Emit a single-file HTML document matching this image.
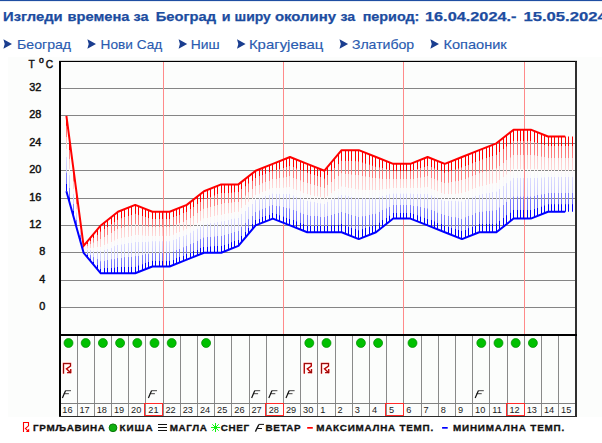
<!DOCTYPE html>
<html><head><meta charset="utf-8">
<style>
html,body{margin:0;padding:0;background:#fff;width:602px;height:443px;overflow:hidden;}
body{position:relative;font-family:"Liberation Sans",sans-serif;}
svg{position:absolute;left:0;top:0;}
</style></head><body>
<svg width="602" height="443" viewBox="0 0 602 443">
<rect x="0" y="0" width="602" height="1.1" fill="#1f4ea3"/>
<text x="3.10" y="21" font-family="Liberation Sans" font-weight="bold" font-size="12.9" fill="#1c4ca0" stroke="#1c4ca0" stroke-width="0.25" textLength="59.60" lengthAdjust="spacingAndGlyphs">Изгледи</text>
<text x="67.50" y="21" font-family="Liberation Sans" font-weight="bold" font-size="12.9" fill="#1c4ca0" stroke="#1c4ca0" stroke-width="0.25" textLength="61.90" lengthAdjust="spacingAndGlyphs">времена</text>
<text x="133.40" y="21" font-family="Liberation Sans" font-weight="bold" font-size="12.9" fill="#1c4ca0" stroke="#1c4ca0" stroke-width="0.25" textLength="15.10" lengthAdjust="spacingAndGlyphs">за</text>
<text x="155.80" y="21" font-family="Liberation Sans" font-weight="bold" font-size="12.9" fill="#1c4ca0" stroke="#1c4ca0" stroke-width="0.25" textLength="60.30" lengthAdjust="spacingAndGlyphs">Београд</text>
<text x="221.80" y="21" font-family="Liberation Sans" font-weight="bold" font-size="12.9" fill="#1c4ca0" stroke="#1c4ca0" stroke-width="0.25" textLength="8.80" lengthAdjust="spacingAndGlyphs">и</text>
<text x="234.50" y="21" font-family="Liberation Sans" font-weight="bold" font-size="12.9" fill="#1c4ca0" stroke="#1c4ca0" stroke-width="0.25" textLength="36.40" lengthAdjust="spacingAndGlyphs">ширу</text>
<text x="274.90" y="21" font-family="Liberation Sans" font-weight="bold" font-size="12.9" fill="#1c4ca0" stroke="#1c4ca0" stroke-width="0.25" textLength="61.10" lengthAdjust="spacingAndGlyphs">околину</text>
<text x="340.40" y="21" font-family="Liberation Sans" font-weight="bold" font-size="12.9" fill="#1c4ca0" stroke="#1c4ca0" stroke-width="0.25" textLength="14.70" lengthAdjust="spacingAndGlyphs">за</text>
<text x="362.70" y="21" font-family="Liberation Sans" font-weight="bold" font-size="12.9" fill="#1c4ca0" stroke="#1c4ca0" stroke-width="0.25" textLength="56.70" lengthAdjust="spacingAndGlyphs">период:</text>
<text x="425.00" y="21" font-family="Liberation Sans" font-weight="bold" font-size="12.9" fill="#1c4ca0" stroke="#1c4ca0" stroke-width="0.25" textLength="91.50" lengthAdjust="spacingAndGlyphs">16.04.2024.-</text>
<text x="523.40" y="21" font-family="Liberation Sans" font-weight="bold" font-size="12.9" fill="#1c4ca0" stroke="#1c4ca0" stroke-width="0.25" textLength="88.00" lengthAdjust="spacingAndGlyphs">15.05.2024.</text>
<path d="M3.40,39.2 L12.00,43.9 L3.40,48.7 L4.70,43.9 Z" fill="#1a3d8f"/>
<text x="17.00" y="48.9" font-family="Liberation Sans" font-size="13" fill="#2a5bb0" stroke="#2a5bb0" stroke-width="0.15" textLength="54.10" lengthAdjust="spacingAndGlyphs">Београд</text>
<path d="M87.40,39.2 L96.00,43.9 L87.40,48.7 L88.70,43.9 Z" fill="#1a3d8f"/>
<text x="100.60" y="48.9" font-family="Liberation Sans" font-size="13" fill="#2a5bb0" stroke="#2a5bb0" stroke-width="0.15" textLength="61.60" lengthAdjust="spacingAndGlyphs">Нови Сад</text>
<path d="M178.60,39.2 L187.20,43.9 L178.60,48.7 L179.90,43.9 Z" fill="#1a3d8f"/>
<text x="190.70" y="48.9" font-family="Liberation Sans" font-size="13" fill="#2a5bb0" stroke="#2a5bb0" stroke-width="0.15" textLength="28.90" lengthAdjust="spacingAndGlyphs">Ниш</text>
<path d="M237.00,39.2 L245.60,43.9 L237.00,48.7 L238.30,43.9 Z" fill="#1a3d8f"/>
<text x="248.90" y="48.9" font-family="Liberation Sans" font-size="13" fill="#2a5bb0" stroke="#2a5bb0" stroke-width="0.15" textLength="74.50" lengthAdjust="spacingAndGlyphs">Крагујевац</text>
<path d="M339.50,39.2 L348.10,43.9 L339.50,48.7 L340.80,43.9 Z" fill="#1a3d8f"/>
<text x="351.90" y="48.9" font-family="Liberation Sans" font-size="13" fill="#2a5bb0" stroke="#2a5bb0" stroke-width="0.15" textLength="62.30" lengthAdjust="spacingAndGlyphs">Златибор</text>
<path d="M430.40,39.2 L439.00,43.9 L430.40,48.7 L431.70,43.9 Z" fill="#1a3d8f"/>
<text x="443.50" y="48.9" font-family="Liberation Sans" font-size="13" fill="#2a5bb0" stroke="#2a5bb0" stroke-width="0.15" textLength="63.20" lengthAdjust="spacingAndGlyphs">Копаоник</text>
<rect x="8" y="57" width="594" height="360" fill="#fcfdfc"/>
<rect x="61" y="307" width="514" height="1" fill="#858585"/>
<rect x="61" y="280" width="514" height="1" fill="#858585"/>
<rect x="61" y="252" width="514" height="1" fill="#858585"/>
<rect x="61" y="225" width="514" height="1" fill="#858585"/>
<rect x="61" y="198" width="514" height="1" fill="#858585"/>
<rect x="61" y="170" width="514" height="1" fill="#858585"/>
<rect x="61" y="143" width="514" height="1" fill="#858585"/>
<rect x="61" y="115" width="514" height="1" fill="#858585"/>
<rect x="61" y="88" width="514" height="1" fill="#858585"/>
<rect x="163" y="62" width="1" height="272" fill="#ff8a8a"/>
<rect x="283" y="62" width="1" height="272" fill="#ff8a8a"/>
<rect x="403" y="62" width="1" height="272" fill="#ff8a8a"/>
<rect x="524" y="62" width="1" height="272" fill="#ff8a8a"/>
<defs><linearGradient id="g" x1="0" y1="0" x2="0" y2="1"><stop offset="0" stop-color="#ff0000"/><stop offset="0.125" stop-color="#ff0000"/><stop offset="0.13" stop-color="#ff7070"/><stop offset="0.28" stop-color="#ff8282"/><stop offset="0.285" stop-color="#ffc8c8"/><stop offset="0.44" stop-color="#ffd8d8"/><stop offset="0.445" stop-color="#fff6f6"/><stop offset="0.54" stop-color="#f6f6ff"/><stop offset="0.545" stop-color="#dcdcff"/><stop offset="0.75" stop-color="#cacaff"/><stop offset="0.755" stop-color="#8484ff"/><stop offset="0.9" stop-color="#7070ff"/><stop offset="0.905" stop-color="#0000ff"/><stop offset="1" stop-color="#0000ff"/></linearGradient></defs>
<rect x="66" y="115.98" width="1" height="75.24" fill="url(#g)"/>
<rect x="69" y="141.97" width="1" height="61.56" fill="url(#g)"/>
<rect x="73" y="167.96" width="1" height="47.88" fill="url(#g)"/>
<rect x="76" y="193.96" width="1" height="34.20" fill="url(#g)"/>
<rect x="80" y="219.95" width="1" height="20.52" fill="url(#g)"/>
<rect x="83" y="245.94" width="1" height="6.84" fill="url(#g)"/>
<rect x="87" y="241.84" width="1" height="15.05" fill="url(#g)"/>
<rect x="90" y="237.73" width="1" height="23.26" fill="url(#g)"/>
<rect x="93" y="233.63" width="1" height="31.46" fill="url(#g)"/>
<rect x="97" y="229.52" width="1" height="39.67" fill="url(#g)"/>
<rect x="100" y="225.42" width="1" height="47.88" fill="url(#g)"/>
<rect x="104" y="222.68" width="1" height="50.62" fill="url(#g)"/>
<rect x="107" y="219.95" width="1" height="53.35" fill="url(#g)"/>
<rect x="111" y="217.21" width="1" height="56.09" fill="url(#g)"/>
<rect x="114" y="214.48" width="1" height="58.82" fill="url(#g)"/>
<rect x="117" y="211.74" width="1" height="61.56" fill="url(#g)"/>
<rect x="121" y="210.37" width="1" height="62.93" fill="url(#g)"/>
<rect x="124" y="209.00" width="1" height="64.30" fill="url(#g)"/>
<rect x="128" y="207.64" width="1" height="65.66" fill="url(#g)"/>
<rect x="131" y="206.27" width="1" height="67.03" fill="url(#g)"/>
<rect x="135" y="204.90" width="1" height="68.40" fill="url(#g)"/>
<rect x="138" y="206.27" width="1" height="65.66" fill="url(#g)"/>
<rect x="142" y="207.64" width="1" height="62.93" fill="url(#g)"/>
<rect x="145" y="209.00" width="1" height="60.19" fill="url(#g)"/>
<rect x="148" y="210.37" width="1" height="57.46" fill="url(#g)"/>
<rect x="152" y="211.74" width="1" height="54.72" fill="url(#g)"/>
<rect x="155" y="211.74" width="1" height="54.72" fill="url(#g)"/>
<rect x="159" y="211.74" width="1" height="54.72" fill="url(#g)"/>
<rect x="162" y="211.74" width="1" height="54.72" fill="url(#g)"/>
<rect x="166" y="211.74" width="1" height="54.72" fill="url(#g)"/>
<rect x="169" y="211.74" width="1" height="54.72" fill="url(#g)"/>
<rect x="173" y="210.37" width="1" height="54.72" fill="url(#g)"/>
<rect x="176" y="209.00" width="1" height="54.72" fill="url(#g)"/>
<rect x="179" y="207.64" width="1" height="54.72" fill="url(#g)"/>
<rect x="183" y="206.27" width="1" height="54.72" fill="url(#g)"/>
<rect x="186" y="204.90" width="1" height="54.72" fill="url(#g)"/>
<rect x="190" y="202.16" width="1" height="56.09" fill="url(#g)"/>
<rect x="193" y="199.43" width="1" height="57.46" fill="url(#g)"/>
<rect x="197" y="196.69" width="1" height="58.82" fill="url(#g)"/>
<rect x="200" y="193.96" width="1" height="60.19" fill="url(#g)"/>
<rect x="203" y="191.22" width="1" height="61.56" fill="url(#g)"/>
<rect x="207" y="189.85" width="1" height="62.93" fill="url(#g)"/>
<rect x="210" y="188.48" width="1" height="64.30" fill="url(#g)"/>
<rect x="214" y="187.12" width="1" height="65.66" fill="url(#g)"/>
<rect x="217" y="185.75" width="1" height="67.03" fill="url(#g)"/>
<rect x="221" y="184.38" width="1" height="68.40" fill="url(#g)"/>
<rect x="224" y="184.38" width="1" height="67.03" fill="url(#g)"/>
<rect x="228" y="184.38" width="1" height="65.66" fill="url(#g)"/>
<rect x="231" y="184.38" width="1" height="64.30" fill="url(#g)"/>
<rect x="234" y="184.38" width="1" height="62.93" fill="url(#g)"/>
<rect x="238" y="184.38" width="1" height="61.56" fill="url(#g)"/>
<rect x="241" y="181.64" width="1" height="60.19" fill="url(#g)"/>
<rect x="245" y="178.91" width="1" height="58.82" fill="url(#g)"/>
<rect x="248" y="176.17" width="1" height="57.46" fill="url(#g)"/>
<rect x="252" y="173.44" width="1" height="56.09" fill="url(#g)"/>
<rect x="255" y="170.70" width="1" height="54.72" fill="url(#g)"/>
<rect x="259" y="169.33" width="1" height="54.72" fill="url(#g)"/>
<rect x="262" y="167.96" width="1" height="54.72" fill="url(#g)"/>
<rect x="265" y="166.60" width="1" height="54.72" fill="url(#g)"/>
<rect x="269" y="165.23" width="1" height="54.72" fill="url(#g)"/>
<rect x="272" y="163.86" width="1" height="54.72" fill="url(#g)"/>
<rect x="276" y="162.49" width="1" height="57.46" fill="url(#g)"/>
<rect x="279" y="161.12" width="1" height="60.19" fill="url(#g)"/>
<rect x="283" y="159.76" width="1" height="62.93" fill="url(#g)"/>
<rect x="286" y="158.39" width="1" height="65.66" fill="url(#g)"/>
<rect x="289" y="157.02" width="1" height="68.40" fill="url(#g)"/>
<rect x="293" y="158.39" width="1" height="68.40" fill="url(#g)"/>
<rect x="296" y="159.76" width="1" height="68.40" fill="url(#g)"/>
<rect x="300" y="161.12" width="1" height="68.40" fill="url(#g)"/>
<rect x="303" y="162.49" width="1" height="68.40" fill="url(#g)"/>
<rect x="307" y="163.86" width="1" height="68.40" fill="url(#g)"/>
<rect x="310" y="165.23" width="1" height="67.03" fill="url(#g)"/>
<rect x="314" y="166.60" width="1" height="65.66" fill="url(#g)"/>
<rect x="317" y="167.96" width="1" height="64.30" fill="url(#g)"/>
<rect x="320" y="169.33" width="1" height="62.93" fill="url(#g)"/>
<rect x="324" y="170.70" width="1" height="61.56" fill="url(#g)"/>
<rect x="327" y="166.60" width="1" height="65.66" fill="url(#g)"/>
<rect x="331" y="162.49" width="1" height="69.77" fill="url(#g)"/>
<rect x="334" y="158.39" width="1" height="73.87" fill="url(#g)"/>
<rect x="338" y="154.28" width="1" height="77.98" fill="url(#g)"/>
<rect x="341" y="150.18" width="1" height="82.08" fill="url(#g)"/>
<rect x="345" y="150.18" width="1" height="83.45" fill="url(#g)"/>
<rect x="348" y="150.18" width="1" height="84.82" fill="url(#g)"/>
<rect x="351" y="150.18" width="1" height="86.18" fill="url(#g)"/>
<rect x="355" y="150.18" width="1" height="87.55" fill="url(#g)"/>
<rect x="358" y="150.18" width="1" height="88.92" fill="url(#g)"/>
<rect x="362" y="151.55" width="1" height="86.18" fill="url(#g)"/>
<rect x="365" y="152.92" width="1" height="83.45" fill="url(#g)"/>
<rect x="369" y="154.28" width="1" height="80.71" fill="url(#g)"/>
<rect x="372" y="155.65" width="1" height="77.98" fill="url(#g)"/>
<rect x="375" y="157.02" width="1" height="75.24" fill="url(#g)"/>
<rect x="379" y="158.39" width="1" height="71.14" fill="url(#g)"/>
<rect x="382" y="159.76" width="1" height="67.03" fill="url(#g)"/>
<rect x="386" y="161.12" width="1" height="62.93" fill="url(#g)"/>
<rect x="389" y="162.49" width="1" height="58.82" fill="url(#g)"/>
<rect x="393" y="163.86" width="1" height="54.72" fill="url(#g)"/>
<rect x="396" y="163.86" width="1" height="54.72" fill="url(#g)"/>
<rect x="400" y="163.86" width="1" height="54.72" fill="url(#g)"/>
<rect x="403" y="163.86" width="1" height="54.72" fill="url(#g)"/>
<rect x="406" y="163.86" width="1" height="54.72" fill="url(#g)"/>
<rect x="410" y="163.86" width="1" height="54.72" fill="url(#g)"/>
<rect x="413" y="162.49" width="1" height="57.46" fill="url(#g)"/>
<rect x="417" y="161.12" width="1" height="60.19" fill="url(#g)"/>
<rect x="420" y="159.76" width="1" height="62.93" fill="url(#g)"/>
<rect x="424" y="158.39" width="1" height="65.66" fill="url(#g)"/>
<rect x="427" y="157.02" width="1" height="68.40" fill="url(#g)"/>
<rect x="431" y="158.39" width="1" height="68.40" fill="url(#g)"/>
<rect x="434" y="159.76" width="1" height="68.40" fill="url(#g)"/>
<rect x="437" y="161.12" width="1" height="68.40" fill="url(#g)"/>
<rect x="441" y="162.49" width="1" height="68.40" fill="url(#g)"/>
<rect x="444" y="163.86" width="1" height="68.40" fill="url(#g)"/>
<rect x="448" y="162.49" width="1" height="71.14" fill="url(#g)"/>
<rect x="451" y="161.12" width="1" height="73.87" fill="url(#g)"/>
<rect x="455" y="159.76" width="1" height="76.61" fill="url(#g)"/>
<rect x="458" y="158.39" width="1" height="79.34" fill="url(#g)"/>
<rect x="461" y="157.02" width="1" height="82.08" fill="url(#g)"/>
<rect x="465" y="155.65" width="1" height="82.08" fill="url(#g)"/>
<rect x="468" y="154.28" width="1" height="82.08" fill="url(#g)"/>
<rect x="472" y="152.92" width="1" height="82.08" fill="url(#g)"/>
<rect x="475" y="151.55" width="1" height="82.08" fill="url(#g)"/>
<rect x="479" y="150.18" width="1" height="82.08" fill="url(#g)"/>
<rect x="482" y="148.81" width="1" height="83.45" fill="url(#g)"/>
<rect x="486" y="147.44" width="1" height="84.82" fill="url(#g)"/>
<rect x="489" y="146.08" width="1" height="86.18" fill="url(#g)"/>
<rect x="492" y="144.71" width="1" height="87.55" fill="url(#g)"/>
<rect x="496" y="143.34" width="1" height="88.92" fill="url(#g)"/>
<rect x="499" y="140.60" width="1" height="88.92" fill="url(#g)"/>
<rect x="503" y="137.87" width="1" height="88.92" fill="url(#g)"/>
<rect x="506" y="135.13" width="1" height="88.92" fill="url(#g)"/>
<rect x="510" y="132.40" width="1" height="88.92" fill="url(#g)"/>
<rect x="513" y="129.66" width="1" height="88.92" fill="url(#g)"/>
<rect x="517" y="129.66" width="1" height="88.92" fill="url(#g)"/>
<rect x="520" y="129.66" width="1" height="88.92" fill="url(#g)"/>
<rect x="523" y="129.66" width="1" height="88.92" fill="url(#g)"/>
<rect x="527" y="129.66" width="1" height="88.92" fill="url(#g)"/>
<rect x="530" y="129.66" width="1" height="88.92" fill="url(#g)"/>
<rect x="534" y="131.03" width="1" height="86.18" fill="url(#g)"/>
<rect x="537" y="132.40" width="1" height="83.45" fill="url(#g)"/>
<rect x="541" y="133.76" width="1" height="80.71" fill="url(#g)"/>
<rect x="544" y="135.13" width="1" height="77.98" fill="url(#g)"/>
<rect x="548" y="136.50" width="1" height="75.24" fill="url(#g)"/>
<rect x="551" y="136.50" width="1" height="75.24" fill="url(#g)"/>
<rect x="554" y="136.50" width="1" height="75.24" fill="url(#g)"/>
<rect x="558" y="136.50" width="1" height="75.24" fill="url(#g)"/>
<rect x="561" y="136.50" width="1" height="75.24" fill="url(#g)"/>
<rect x="565" y="136.50" width="1" height="75.24" fill="url(#g)"/>
<rect x="568" y="136.50" width="1" height="75.24" fill="url(#g)"/>
<rect x="572" y="136.50" width="1" height="75.24" fill="url(#g)"/>
<polyline points="66.40,115.98 83.60,245.94 100.80,225.42 118.00,211.74 135.20,204.90 152.40,211.74 169.60,211.74 186.80,204.90 204.00,191.22 221.20,184.38 238.40,184.38 255.60,170.70 272.80,163.86 290.00,157.02 307.20,163.86 324.40,170.70 341.60,150.18 358.80,150.18 376.00,157.02 393.20,163.86 410.40,163.86 427.60,157.02 444.80,163.86 462.00,157.02 479.20,150.18 496.40,143.34 513.60,129.66 530.80,129.66 548.00,136.50 565.20,136.50" fill="none" stroke="#ff0000" stroke-width="2" stroke-linejoin="round"/>
<polyline points="66.40,191.22 83.60,252.78 100.80,273.30 118.00,273.30 135.20,273.30 152.40,266.46 169.60,266.46 186.80,259.62 204.00,252.78 221.20,252.78 238.40,245.94 255.60,225.42 272.80,218.58 290.00,225.42 307.20,232.26 324.40,232.26 341.60,232.26 358.80,239.10 376.00,232.26 393.20,218.58 410.40,218.58 427.60,225.42 444.80,232.26 462.00,239.10 479.20,232.26 496.40,232.26 513.60,218.58 530.80,218.58 548.00,211.74 565.20,211.74" fill="none" stroke="#0000ff" stroke-width="2" stroke-linejoin="round"/>
<rect x="77" y="336" width="1" height="80" fill="#8a8a8a"/>
<rect x="94" y="336" width="1" height="80" fill="#8a8a8a"/>
<rect x="111" y="336" width="1" height="80" fill="#8a8a8a"/>
<rect x="128" y="336" width="1" height="80" fill="#8a8a8a"/>
<rect x="145" y="336" width="1" height="80" fill="#8a8a8a"/>
<rect x="163" y="336" width="1" height="80" fill="#8a8a8a"/>
<rect x="180" y="336" width="1" height="80" fill="#8a8a8a"/>
<rect x="197" y="336" width="1" height="80" fill="#8a8a8a"/>
<rect x="214" y="336" width="1" height="80" fill="#8a8a8a"/>
<rect x="231" y="336" width="1" height="80" fill="#8a8a8a"/>
<rect x="249" y="336" width="1" height="80" fill="#8a8a8a"/>
<rect x="266" y="336" width="1" height="80" fill="#8a8a8a"/>
<rect x="283" y="336" width="1" height="80" fill="#8a8a8a"/>
<rect x="300" y="336" width="1" height="80" fill="#8a8a8a"/>
<rect x="317" y="336" width="1" height="80" fill="#8a8a8a"/>
<rect x="335" y="336" width="1" height="80" fill="#8a8a8a"/>
<rect x="352" y="336" width="1" height="80" fill="#8a8a8a"/>
<rect x="369" y="336" width="1" height="80" fill="#8a8a8a"/>
<rect x="386" y="336" width="1" height="80" fill="#8a8a8a"/>
<rect x="403" y="336" width="1" height="80" fill="#8a8a8a"/>
<rect x="421" y="336" width="1" height="80" fill="#8a8a8a"/>
<rect x="438" y="336" width="1" height="80" fill="#8a8a8a"/>
<rect x="455" y="336" width="1" height="80" fill="#8a8a8a"/>
<rect x="472" y="336" width="1" height="80" fill="#8a8a8a"/>
<rect x="489" y="336" width="1" height="80" fill="#8a8a8a"/>
<rect x="507" y="336" width="1" height="80" fill="#8a8a8a"/>
<rect x="524" y="336" width="1" height="80" fill="#8a8a8a"/>
<rect x="541" y="336" width="1" height="80" fill="#8a8a8a"/>
<rect x="558" y="336" width="1" height="80" fill="#8a8a8a"/>
<rect x="61" y="403" width="514" height="1" fill="#808080"/>
<rect x="59" y="61" width="518" height="1" fill="#000"/>
<rect x="59" y="60.7" width="518" height="0.6" fill="#000" opacity="0.5"/>
<rect x="59" y="61" width="2" height="355.7" fill="#000"/>
<rect x="575.1" y="61" width="1.8" height="355.7" fill="#1a1a1a"/>
<rect x="59" y="334" width="518" height="2" fill="#000"/>
<rect x="59" y="416" width="518" height="1" fill="#2a2a2a"/>
<circle cx="68.50" cy="343" r="4.5" fill="#00c000" stroke="#008c00" stroke-width="0.7"/>
<g transform="translate(63.50,363.50) scale(1.0)" fill="none" stroke-linecap="square"><g stroke="#ff2020" stroke-width="1.45"><path d="M0,9.4 V0 H7 V2.6 L3,5.3 L6.8,8.9"/><path d="M4.2,9.1 H7.2 V6.2"/></g><g stroke="#500000" stroke-width="0.6"><path d="M0,9.4 V0 H7 V2.6 L3,5.3 L6.8,8.9"/><path d="M4.2,9.1 H7.2 V6.2"/></g></g>
<g transform="translate(62.00,390.30) scale(1.0)" fill="none" stroke="#111"><path d="M0.4,7.6 L3.5,0.4" stroke-width="1.2"/><path d="M3.3,0.4 H9 M1.8,3.4 H6.9" stroke-width="0.8"/></g>
<text x="62.30" y="413" font-family="Liberation Sans" font-size="9.2" fill="#1a1a1a">16</text>
<circle cx="85.70" cy="343" r="4.5" fill="#00c000" stroke="#008c00" stroke-width="0.7"/>
<text x="79.50" y="413" font-family="Liberation Sans" font-size="9.2" fill="#1a1a1a">17</text>
<circle cx="102.90" cy="343" r="4.5" fill="#00c000" stroke="#008c00" stroke-width="0.7"/>
<text x="96.70" y="413" font-family="Liberation Sans" font-size="9.2" fill="#1a1a1a">18</text>
<circle cx="120.10" cy="343" r="4.5" fill="#00c000" stroke="#008c00" stroke-width="0.7"/>
<text x="113.90" y="413" font-family="Liberation Sans" font-size="9.2" fill="#1a1a1a">19</text>
<circle cx="137.30" cy="343" r="4.5" fill="#00c000" stroke="#008c00" stroke-width="0.7"/>
<text x="131.10" y="413" font-family="Liberation Sans" font-size="9.2" fill="#1a1a1a">20</text>
<circle cx="154.50" cy="343" r="4.5" fill="#00c000" stroke="#008c00" stroke-width="0.7"/>
<g transform="translate(148.00,390.30) scale(1.0)" fill="none" stroke="#111"><path d="M0.4,7.6 L3.5,0.4" stroke-width="1.2"/><path d="M3.3,0.4 H9 M1.8,3.4 H6.9" stroke-width="0.8"/></g>
<text x="148.30" y="413" font-family="Liberation Sans" font-size="9.2" fill="#1a1a1a">21</text>
<rect x="144.5" y="403.5" width="18" height="12" fill="none" stroke="#ff2a2a" stroke-width="1"/>
<circle cx="171.70" cy="343" r="4.5" fill="#00c000" stroke="#008c00" stroke-width="0.7"/>
<text x="165.50" y="413" font-family="Liberation Sans" font-size="9.2" fill="#1a1a1a">22</text>
<text x="182.70" y="413" font-family="Liberation Sans" font-size="9.2" fill="#1a1a1a">23</text>
<circle cx="206.10" cy="343" r="4.5" fill="#00c000" stroke="#008c00" stroke-width="0.7"/>
<text x="199.90" y="413" font-family="Liberation Sans" font-size="9.2" fill="#1a1a1a">24</text>
<text x="217.10" y="413" font-family="Liberation Sans" font-size="9.2" fill="#1a1a1a">25</text>
<text x="234.30" y="413" font-family="Liberation Sans" font-size="9.2" fill="#1a1a1a">26</text>
<g transform="translate(251.20,390.30) scale(1.0)" fill="none" stroke="#111"><path d="M0.4,7.6 L3.5,0.4" stroke-width="1.2"/><path d="M3.3,0.4 H9 M1.8,3.4 H6.9" stroke-width="0.8"/></g>
<text x="251.50" y="413" font-family="Liberation Sans" font-size="9.2" fill="#1a1a1a">27</text>
<g transform="translate(268.40,390.30) scale(1.0)" fill="none" stroke="#111"><path d="M0.4,7.6 L3.5,0.4" stroke-width="1.2"/><path d="M3.3,0.4 H9 M1.8,3.4 H6.9" stroke-width="0.8"/></g>
<text x="268.70" y="413" font-family="Liberation Sans" font-size="9.2" fill="#1a1a1a">28</text>
<rect x="265.5" y="403.5" width="18" height="12" fill="none" stroke="#ff2a2a" stroke-width="1"/>
<g transform="translate(285.60,390.30) scale(1.0)" fill="none" stroke="#111"><path d="M0.4,7.6 L3.5,0.4" stroke-width="1.2"/><path d="M3.3,0.4 H9 M1.8,3.4 H6.9" stroke-width="0.8"/></g>
<text x="285.90" y="413" font-family="Liberation Sans" font-size="9.2" fill="#1a1a1a">29</text>
<circle cx="309.30" cy="343" r="4.5" fill="#00c000" stroke="#008c00" stroke-width="0.7"/>
<g transform="translate(304.30,363.50) scale(1.0)" fill="none" stroke-linecap="square"><g stroke="#ff2020" stroke-width="1.45"><path d="M0,9.4 V0 H7 V2.6 L3,5.3 L6.8,8.9"/><path d="M4.2,9.1 H7.2 V6.2"/></g><g stroke="#500000" stroke-width="0.6"><path d="M0,9.4 V0 H7 V2.6 L3,5.3 L6.8,8.9"/><path d="M4.2,9.1 H7.2 V6.2"/></g></g>
<text x="303.10" y="413" font-family="Liberation Sans" font-size="9.2" fill="#1a1a1a">30</text>
<circle cx="326.50" cy="343" r="4.5" fill="#00c000" stroke="#008c00" stroke-width="0.7"/>
<g transform="translate(321.50,363.50) scale(1.0)" fill="none" stroke-linecap="square"><g stroke="#ff2020" stroke-width="1.45"><path d="M0,9.4 V0 H7 V2.6 L3,5.3 L6.8,8.9"/><path d="M4.2,9.1 H7.2 V6.2"/></g><g stroke="#500000" stroke-width="0.6"><path d="M0,9.4 V0 H7 V2.6 L3,5.3 L6.8,8.9"/><path d="M4.2,9.1 H7.2 V6.2"/></g></g>
<text x="320.30" y="413" font-family="Liberation Sans" font-size="9.2" fill="#1a1a1a">1</text>
<text x="337.50" y="413" font-family="Liberation Sans" font-size="9.2" fill="#1a1a1a">2</text>
<circle cx="360.90" cy="343" r="4.5" fill="#00c000" stroke="#008c00" stroke-width="0.7"/>
<text x="354.70" y="413" font-family="Liberation Sans" font-size="9.2" fill="#1a1a1a">3</text>
<circle cx="378.10" cy="343" r="4.5" fill="#00c000" stroke="#008c00" stroke-width="0.7"/>
<text x="371.90" y="413" font-family="Liberation Sans" font-size="9.2" fill="#1a1a1a">4</text>
<text x="389.10" y="413" font-family="Liberation Sans" font-size="9.2" fill="#1a1a1a">5</text>
<rect x="385.5" y="403.5" width="18" height="12" fill="none" stroke="#ff2a2a" stroke-width="1"/>
<circle cx="412.50" cy="343" r="4.5" fill="#00c000" stroke="#008c00" stroke-width="0.7"/>
<text x="406.30" y="413" font-family="Liberation Sans" font-size="9.2" fill="#1a1a1a">6</text>
<text x="423.50" y="413" font-family="Liberation Sans" font-size="9.2" fill="#1a1a1a">7</text>
<text x="440.70" y="413" font-family="Liberation Sans" font-size="9.2" fill="#1a1a1a">8</text>
<text x="457.90" y="413" font-family="Liberation Sans" font-size="9.2" fill="#1a1a1a">9</text>
<circle cx="481.30" cy="343" r="4.5" fill="#00c000" stroke="#008c00" stroke-width="0.7"/>
<g transform="translate(474.80,390.30) scale(1.0)" fill="none" stroke="#111"><path d="M0.4,7.6 L3.5,0.4" stroke-width="1.2"/><path d="M3.3,0.4 H9 M1.8,3.4 H6.9" stroke-width="0.8"/></g>
<text x="475.10" y="413" font-family="Liberation Sans" font-size="9.2" fill="#1a1a1a">10</text>
<circle cx="498.50" cy="343" r="4.5" fill="#00c000" stroke="#008c00" stroke-width="0.7"/>
<text x="492.30" y="413" font-family="Liberation Sans" font-size="9.2" fill="#1a1a1a">11</text>
<circle cx="515.70" cy="343" r="4.5" fill="#00c000" stroke="#008c00" stroke-width="0.7"/>
<text x="509.50" y="413" font-family="Liberation Sans" font-size="9.2" fill="#1a1a1a">12</text>
<rect x="506.5" y="403.5" width="18" height="12" fill="none" stroke="#ff2a2a" stroke-width="1"/>
<circle cx="532.90" cy="343" r="4.5" fill="#00c000" stroke="#008c00" stroke-width="0.7"/>
<text x="526.70" y="413" font-family="Liberation Sans" font-size="9.2" fill="#1a1a1a">13</text>
<text x="543.90" y="413" font-family="Liberation Sans" font-size="9.2" fill="#1a1a1a">14</text>
<text x="561.10" y="413" font-family="Liberation Sans" font-size="9.2" fill="#1a1a1a">15</text>
<text x="39.3" y="309.7" font-family="Liberation Sans" font-size="10.9" fill="#111" stroke="#111" stroke-width="0.45">0</text>
<text x="39.3" y="282.7" font-family="Liberation Sans" font-size="10.9" fill="#111" stroke="#111" stroke-width="0.45">4</text>
<text x="39.3" y="254.7" font-family="Liberation Sans" font-size="10.9" fill="#111" stroke="#111" stroke-width="0.45">8</text>
<text x="29.3" y="227.7" font-family="Liberation Sans" font-size="10.9" fill="#111" stroke="#111" stroke-width="0.45">12</text>
<text x="29.3" y="200.7" font-family="Liberation Sans" font-size="10.9" fill="#111" stroke="#111" stroke-width="0.45">16</text>
<text x="29.3" y="172.7" font-family="Liberation Sans" font-size="10.9" fill="#111" stroke="#111" stroke-width="0.45">20</text>
<text x="29.3" y="145.7" font-family="Liberation Sans" font-size="10.9" fill="#111" stroke="#111" stroke-width="0.45">24</text>
<text x="29.3" y="117.7" font-family="Liberation Sans" font-size="10.9" fill="#111" stroke="#111" stroke-width="0.45">28</text>
<text x="29.3" y="90.7" font-family="Liberation Sans" font-size="10.9" fill="#111" stroke="#111" stroke-width="0.45">32</text>
<text x="28.6" y="67.9" font-family="Liberation Sans" font-size="10.2" fill="#111" stroke="#111" stroke-width="0.45">T</text>
<text x="39" y="63.3" font-family="Liberation Sans" font-size="8.6" fill="#111" stroke="#111" stroke-width="0.5">o</text>
<text x="45.8" y="67.9" font-family="Liberation Sans" font-size="10.2" fill="#111" stroke="#111" stroke-width="0.45">C</text>
<g fill="none" stroke="#ff0000" stroke-width="1.1"><path d="M23.5,432 V422.5 H28.5 V425.8 L25.4,428.5 L28.2,431.2"/></g><path d="M25.8,432 H29.2 V428.6 Z" fill="#ff0000"/>
<text x="33" y="430.5" font-family="Liberation Sans" font-weight="bold" font-size="9.9" fill="#111" stroke="#111" stroke-width="0.3" textLength="72">ГРМЉАВИНА</text>
<circle cx="113" cy="427.8" r="3.9" fill="#10b010" stroke="#007000" stroke-width="0.9"/>
<text x="119.6" y="430.5" font-family="Liberation Sans" font-weight="bold" font-size="9.9" fill="#111" stroke="#111" stroke-width="0.3" textLength="33">КИША</text>
<g stroke="#111" stroke-width="1"><line x1="158" y1="424.5" x2="167" y2="424.5"/><line x1="158" y1="427.5" x2="167" y2="427.5"/><line x1="158" y1="430.5" x2="167" y2="430.5"/></g>
<text x="169.8" y="430.5" font-family="Liberation Sans" font-weight="bold" font-size="9.9" fill="#111" stroke="#111" stroke-width="0.3" textLength="37">МАГЛА</text>
<g stroke="#10f010" stroke-width="1"><line x1="215.5" y1="423" x2="215.5" y2="432"/><line x1="211" y1="427.5" x2="220" y2="427.5"/><line x1="212.3" y1="424.3" x2="218.7" y2="430.7"/><line x1="218.7" y1="424.3" x2="212.3" y2="430.7"/></g>
<text x="220.7" y="430.5" font-family="Liberation Sans" font-weight="bold" font-size="9.9" fill="#111" stroke="#111" stroke-width="0.3" textLength="28.5">СНЕГ</text>
<g fill="none" stroke="#111"><path d="M255.4,431.6 L258.8,424.6" stroke-width="1.3"/><path d="M258.8,424.4 H264 M257.4,428.5 H262" stroke-width="1"/></g>
<text x="265.6" y="430.5" font-family="Liberation Sans" font-weight="bold" font-size="9.9" fill="#111" stroke="#111" stroke-width="0.3" textLength="35">ВЕТАР</text>
<rect x="307.2" y="427" width="5.6" height="1.7" fill="#ff0000"/>
<text x="316.2" y="430.5" font-family="Liberation Sans" font-weight="bold" font-size="9.9" fill="#111" stroke="#111" stroke-width="0.3" textLength="117">МАКСИМАЛНА ТЕМП.</text>
<rect x="442.1" y="427" width="5.6" height="1.7" fill="#0000ff"/>
<text x="452.9" y="430.5" font-family="Liberation Sans" font-weight="bold" font-size="9.9" fill="#111" stroke="#111" stroke-width="0.3" textLength="111.4">МИНИМАЛНА ТЕМП.</text>
</svg>
</body></html>
